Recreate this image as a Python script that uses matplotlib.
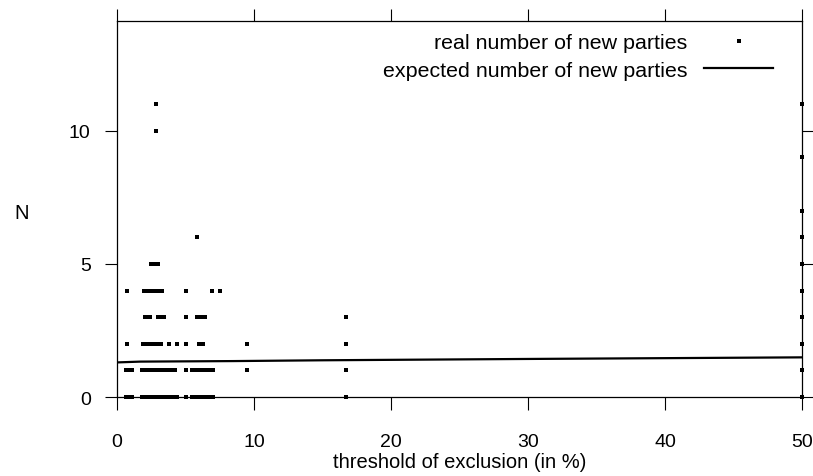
import matplotlib.pyplot as plt
import numpy as np

plt.rcParams['font.family'] = ['Liberation Sans', 'DejaVu Sans']

# real number of new parties: x positions (threshold, %) for each value of N
x_n0 = [0.66, 0.8, 1.0, 1.07, 1.8, 1.9, 2.0, 2.1, 2.2, 2.3, 2.4, 2.5, 2.6, 2.7,
        2.8, 2.9, 3.0, 3.1, 3.2, 3.3, 3.4, 3.5, 3.6, 3.7, 3.8, 3.9, 4.0, 4.1,
        4.2, 4.4, 5.0, 5.5, 5.6, 5.7, 5.8, 5.9, 6.0, 6.1, 6.2, 6.3, 6.4, 6.5,
        6.6, 6.7, 6.8, 6.9, 7.0, 16.7, 50]
x_n1 = [0.66, 0.9, 1.07, 1.8, 1.9, 2.0, 2.1, 2.2, 2.3, 2.4, 2.5, 2.6, 2.7, 2.8,
        2.9, 3.05, 3.2, 3.3, 3.4, 3.5, 3.6, 3.7, 3.8, 3.9, 4.0, 4.2, 5.0, 5.5,
        5.6, 5.7, 5.8, 5.9, 6.0, 6.1, 6.2, 6.3, 6.4, 6.5, 6.6, 6.7, 7.0, 9.5,
        16.7, 50]
x_n2 = [0.7, 1.9, 2.0, 2.2, 2.3, 2.4, 2.5, 2.7, 2.8, 3.0, 3.2, 3.77, 4.36, 5.0,
        6.0, 6.3, 9.5, 16.7, 50]
x_n3 = [2.07, 2.2, 2.4, 3.0, 3.2, 3.4, 5.0, 5.86, 6.0, 6.2, 6.4, 16.7, 50]
x_n4 = [0.7, 2.0, 2.1, 2.2, 2.3, 2.4, 2.5, 2.6, 2.7, 2.8, 2.9, 3.0, 3.1, 3.3,
        5.0, 6.96, 7.5, 50]
x_n5 = [2.5, 2.6, 2.8, 3.0, 50]
x_n6 = [5.8, 50]
x_n7 = [50]
x_n9 = [50]
x_n10 = [2.85]
x_n11 = [2.85, 50]

# expected number of new parties
exp_x = [0, 1.7, 8.5, 15, 30, 50]
exp_y = [1.30, 1.33, 1.35, 1.38, 1.43, 1.49]

levels = {0: x_n0, 1: x_n1, 2: x_n2, 3: x_n3, 4: x_n4, 5: x_n5, 6: x_n6,
          7: x_n7, 9: x_n9, 10: x_n10, 11: x_n11}
px = []
py = []
for n, xs in levels.items():
    px += xs
    py += [n] * len(xs)

fig = plt.figure(figsize=(8.13, 4.77), dpi=100)
ax = fig.add_axes([0.144, 0.1656, 0.8425, 0.7884])

ax.plot(px, py, 's', color='black', markersize=2.2, markeredgewidth=0,
        clip_on=False, label='real number of new parties')
ax.plot(exp_x, exp_y, '-', color='black', linewidth=1.6,
        label='expected number of new parties')

ax.set_xlim(0, 50)
ax.set_ylim(0, 14.13)
ax.set_xticks([0, 10, 20, 30, 40, 50])
ax.set_yticks([0, 5, 10])
ax.tick_params(direction='out', length=9, width=0.8, labelsize=14,
               top=True, right=True)
ax.tick_params(axis='x', pad=17)
ax.tick_params(axis='y', pad=10)
for s in ax.spines.values():
    s.set_linewidth(0.9)

ax.set_xlabel('threshold of exclusion (in %)', fontsize=14.5, labelpad=1)
ax.set_ylabel('N', fontsize=14.5, rotation=0, va='center', ha='center')
ax.yaxis.set_label_coords(-0.14, 0.49)

ax.legend(loc='upper right', frameon=False, markerfirst=False, fontsize=15.4,
          handlelength=3.2, handletextpad=0.8, borderaxespad=0.0,
          bbox_to_anchor=(0.97, 0.99), labelspacing=0.4)

fig.savefig('out.png', dpi=100)
